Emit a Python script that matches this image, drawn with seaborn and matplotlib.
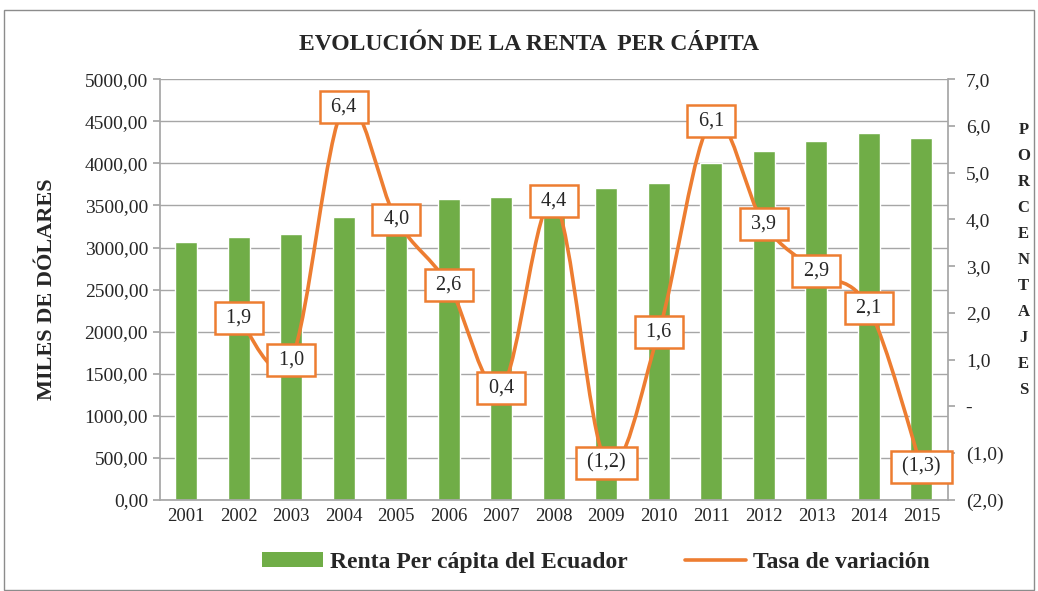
import matplotlib
matplotlib.use('Agg')
import matplotlib.pyplot as plt
import seaborn as sns
import pandas as pd
from matplotlib.path import Path
from matplotlib.patches import PathPatch, Rectangle
from matplotlib.lines import Line2D

# datos
years = [2001, 2002, 2003, 2004, 2005, 2006, 2007, 2008, 2009, 2010, 2011, 2012, 2013, 2014, 2015]
renta = [3065, 3125, 3160, 3360, 3495, 3580, 3595, 3755, 3710, 3770, 4000, 4145, 4265, 4355, 4300]
tasa_years = years[1:]
tasa = [1.9, 1.0, 6.4, 4.0, 2.6, 0.4, 4.4, -1.2, 1.6, 6.1, 3.9, 2.9, 2.1, -1.3]

verde = '#70AD47'
naranja = '#ED7D31'
gris = '#A6A6A6'

sns.set_theme(style='white')
plt.rcParams['font.family'] = ['Liberation Serif', 'DejaVu Serif']


def fmt_pct(v):
    s = f'{abs(v):.1f}'.replace('.', ',')
    if v < 0:
        return f'({s})'
    if v == 0:
        return '-'
    return s


fig = plt.figure(figsize=(10.38, 5.91), dpi=100)
ax = fig.add_axes([0.154, 0.154, 0.759, 0.712])

df = pd.DataFrame({'Año': [str(y) for y in years], 'Renta': renta})
sns.barplot(data=df, x='Año', y='Renta', color=verde, saturation=1, width=0.42, ax=ax, zorder=2)

ax.set_ylim(0, 5000)
ax.set_xlim(-0.5, len(years) - 0.5)
yt = list(range(0, 5001, 500))
ax.set_yticks(yt)
ax.set_yticklabels([f'{v:.2f}'.replace('.', ',') for v in yt], fontsize=14)
ax.yaxis.grid(True, color=gris, lw=1)
ax.set_axisbelow(True)
ax.set_xlabel('')
ax.set_ylabel('')
ax.tick_params(axis='x', which='major', length=0, labelsize=13.5, pad=6)
ax.set_xticks([i - 0.5 for i in range(len(years) + 1)], minor=True)
ax.tick_params(axis='x', which='minor', length=5, color=gris, direction='out')
ax.tick_params(axis='y', length=5, color=gris, direction='out', left=True)
for s in ['top', 'right']:
    ax.spines[s].set_visible(False)
for s in ['left', 'bottom']:
    ax.spines[s].set_color(gris)

# eje secundario
ax2 = ax.twinx()
ax2.set_ylim(-2, 7)
rt = list(range(-2, 8))
ax2.set_yticks(rt)
ax2.set_yticklabels([fmt_pct(v) for v in rt], fontsize=14)
ax2.tick_params(axis='y', length=5, color=gris, direction='out', right=True, pad=8)
for s in ['top', 'left', 'bottom']:
    ax2.spines[s].set_visible(False)
ax2.spines['right'].set_color(gris)
ax2.grid(False)

# linea suavizada (estilo Excel)
xs = [years.index(y) for y in tasa_years]
pts = list(zip(xs, tasa))
verts = [pts[0]]
codes = [Path.MOVETO]
n = len(pts)
for i in range(n - 1):
    p0 = pts[i - 1] if i > 0 else pts[i]
    p1 = pts[i]
    p2 = pts[i + 1]
    p3 = pts[i + 2] if i + 2 < n else pts[i + 1]
    c1 = (p1[0] + (p2[0] - p0[0]) / 6, p1[1] + (p2[1] - p0[1]) / 6)
    c2 = (p2[0] - (p3[0] - p1[0]) / 6, p2[1] - (p3[1] - p1[1]) / 6)
    verts += [c1, c2, p2]
    codes += [Path.CURVE4] * 3
ax2.add_patch(PathPatch(Path(verts, codes), fill=False, ec=naranja, lw=2.6, zorder=3))

for x, v in zip(xs, tasa):
    ax2.text(x, v, ' ' + fmt_pct(v) + ' ', ha='center', va='center', fontsize=14.5, color='#262626',
             zorder=5, bbox=dict(boxstyle='square,pad=0.32', fc='white', ec=naranja, lw=1.8))

# textos
fig.text(0.51, 0.924, 'EVOLUCIÓN DE LA RENTA  PER CÁPITA', ha='center', va='center',
         fontsize=17, fontweight='bold', color='#262626')
fig.text(0.045, 0.51, 'MILES DE DÓLARES', rotation=90, ha='center', va='center',
         fontsize=16, fontweight='bold', color='#262626')
fig.text(0.986, 0.56, '\n'.join('PORCENTAJES'), ha='center', va='center',
         fontsize=12, fontweight='bold', color='#262626', linespacing=1.83)

handles = [Rectangle((0, 0), 1, 1, fc=verde, ec='none'), Line2D([0], [0], color=naranja, lw=2.6)]
fig.legend(handles, ['Renta Per cápita del Ecuador', 'Tasa de variación'], loc='center',
           bbox_to_anchor=(0.574, 0.049), ncol=2, frameon=False,
           prop={'weight': 'bold', 'size': 17}, handlelength=2.6, columnspacing=2.4,
           handletextpad=0.3, handleheight=0.6)

fig.patches.append(Rectangle((0.004, 0.002), 0.992, 0.981, transform=fig.transFigure,
                             fill=False, ec='#8C8C8C', lw=1))

fig.savefig('out.png', dpi=100)
